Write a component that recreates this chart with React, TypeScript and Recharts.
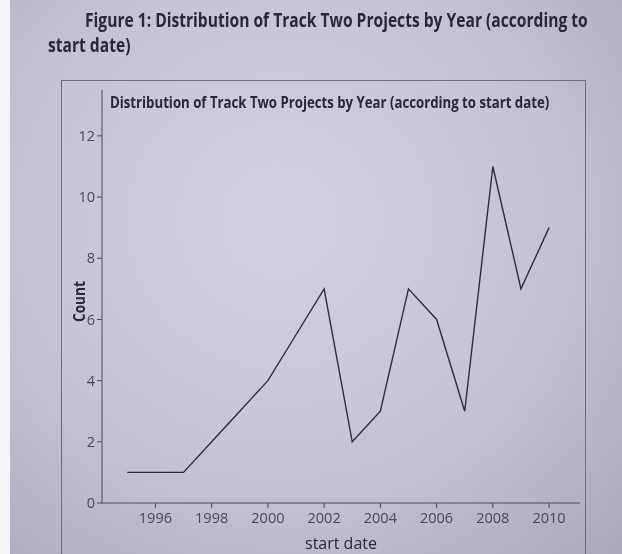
import { LineChart, Line, XAxis, YAxis } from 'recharts'

const years = [1995, 1996, 1997, 1998, 1999, 2000, 2001, 2002, 2003, 2004, 2005, 2006, 2007, 2008, 2009, 2010]
const counts = [1, 1, 1, 2, 3, 4, 5.5, 7, 2, 3, 7, 6, 3, 11, 7, 9]
const xTicks = [1996, 1998, 2000, 2002, 2004, 2006, 2008, 2010]
const yTicks = [0, 2, 4, 6, 8, 10, 12]

const data = years.map((y, i) => ({ year: y, count: counts[i] }))

const font = '"Open Sans", sans-serif'
const tickStyle = { fontSize: 14.5, fill: '#4a4858', fontFamily: font }

// the print uses a narrow humanist face; squeeze Open Sans to match
const narrow = (extra: object) => ({
  position: 'absolute' as const, fontFamily: font, fontWeight: 'bold' as const, color: '#2a2833',
  whiteSpace: 'nowrap' as const, transformOrigin: 'left top', ...extra,
})

export default function App() {
  return (
    <div
      style={{
        position: 'fixed', left: 0, top: 0, width: 622, height: 554, overflow: 'hidden',
        background: 'radial-gradient(ellipse at 45% 40%, #d3d1dd 0%, #c6c2d4 55%, #aca6bd 100%)',
      }}
    >
      <div style={{ position: 'absolute', left: 0, top: 0, width: 10, height: 554, background: '#f4f4f6' }} />
      <div style={narrow({ left: 85, top: 6, fontSize: 19.5, transform: 'scaleX(0.8)' })}>
        Figure 1: Distribution of Track Two Projects by Year (according to
      </div>
      <div style={narrow({ left: 48, top: 31, fontSize: 19.5, transform: 'scaleX(0.8)' })}>
        start date)
      </div>
      <div style={{ position: 'absolute', left: 61, top: 80, width: 523, height: 480, border: '1.5px solid #6f6b7c' }} />
      <div style={narrow({ left: 110, top: 91, fontSize: 16, transform: 'scaleX(0.825)' })}>
        Distribution of Track Two Projects by Year (according to start date)
      </div>
      <div
        style={narrow({
          left: 68, top: 322, fontSize: 16, transform: 'rotate(-90deg) scaleX(0.85)',
        })}
      >
        Count
      </div>
      <div style={{ position: 'absolute', left: 0, top: 0 }}>
        <LineChart width={622} height={554} data={data} margin={{ top: 90, right: 42, left: 62, bottom: 21 }}>
          <XAxis
            dataKey="year"
            type="number"
            domain={[1994.1, 2011.1]}
            ticks={xTicks}
            allowDataOverflow
            height={30}
            tick={{ ...tickStyle, dy: 3 }}
            tickSize={5}
            stroke="#4a4858"
            label={{ value: 'start date', position: 'insideBottom', offset: -16, fill: '#2a2833', fontSize: 16, fontFamily: font }}
          />
          <YAxis
            domain={[0, 13.5]}
            ticks={yTicks}
            allowDataOverflow
            width={40}
            tick={tickStyle}
            tickSize={5}
            stroke="#4a4858"
          />
          <Line type="linear" dataKey="count" stroke="#2f2d38" strokeWidth={1.4} dot={false} isAnimationActive={false} />
        </LineChart>
      </div>
    </div>
  )
}
